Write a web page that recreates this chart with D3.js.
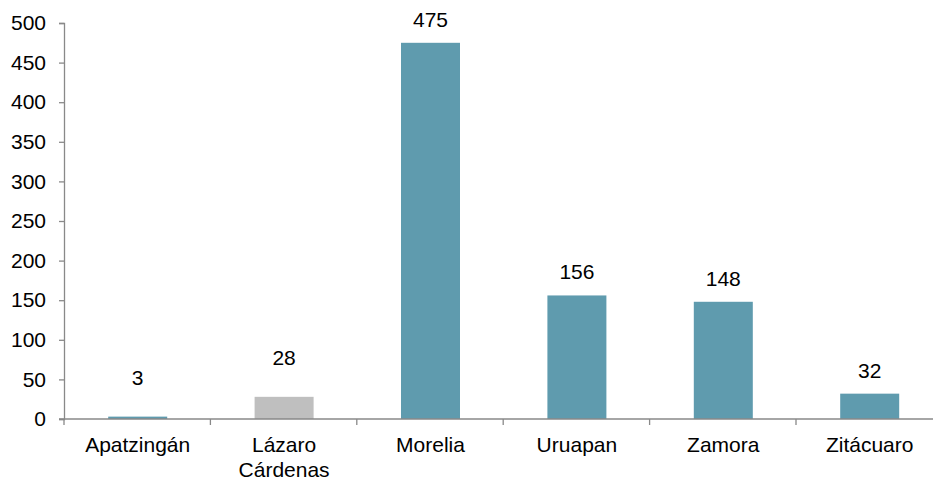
<!DOCTYPE html>
<html>
<head>
<meta charset="utf-8">
<script src="https://cdn.jsdelivr.net/npm/d3@7"></script>
<style>
  html, body { margin: 0; padding: 0; background: #fff; }
  svg { display: block; font-family: "Liberation Sans", Arial, sans-serif; }
</style>
</head>
<body>
<svg id="chart" width="933" height="480"></svg>
<script>
const categories = ["Apatzingán", "Lázaro\nCárdenas", "Morelia", "Uruapan", "Zamora", "Zitácuaro"];
const values = [3, 28, 475, 156, 148, 32];
const barColors = ["#5F9BAE", "#BFBFBF", "#5F9BAE", "#5F9BAE", "#5F9BAE", "#5F9BAE"];
const yTicks = [0, 50, 100, 150, 200, 250, 300, 350, 400, 450, 500];

const svg = d3.select("#chart");
const axisColor = "#898989";
const fontSize = 21;

const x = d3.scaleBand()
  .domain(categories)
  .range([64.5, 942.9])
  .paddingInner(0.597)
  .paddingOuter(0.2985);

const y = d3.scaleLinear().domain([0, 500]).range([419, 23]);

// Y axis
const yAxis = d3.axisLeft(y).tickValues(yTicks).tickSize(5).tickPadding(13).tickFormat(d3.format("d"));
const gy = svg.append("g").attr("transform", "translate(64,0)").call(yAxis);
gy.select(".domain").attr("stroke", axisColor).attr("stroke-width", 1.3);
gy.selectAll(".tick line").attr("stroke", axisColor).attr("stroke-width", 1.3);
gy.selectAll(".tick text").attr("fill", "#000").style("font-size", fontSize + "px")
  .style("font-family", '"Liberation Sans", Arial, sans-serif');

// Bars
svg.append("g").selectAll("rect")
  .data(values)
  .join("rect")
  .attr("x", (d, i) => x(categories[i]))
  .attr("y", d => y(d))
  .attr("width", x.bandwidth())
  .attr("height", d => y(0) - y(d))
  .attr("fill", (d, i) => barColors[i]);

// X axis line and category boundary ticks
const x0 = 64;
svg.append("line")
  .attr("x1", 59).attr("x2", 933)
  .attr("y1", y(0)).attr("y2", y(0))
  .attr("stroke", axisColor).attr("stroke-width", 1.3);
const step = x.step();
const bounds = d3.range(categories.length + 1).map(i => x0 + i * step);
svg.append("g").selectAll("line")
  .data(bounds)
  .join("line")
  .attr("x1", d => d).attr("x2", d => d)
  .attr("y1", y(0)).attr("y2", y(0) + 6)
  .attr("stroke", axisColor).attr("stroke-width", 1.3);

// Category labels
const lab = svg.append("g").selectAll("text")
  .data(categories)
  .join("text")
  .attr("x", d => x(d) + x.bandwidth() / 2)
  .attr("y", 451.5)
  .attr("text-anchor", "middle")
  .attr("fill", "#000")
  .style("font-size", fontSize + "px");
lab.each(function(d) {
  const t = d3.select(this);
  d.split("\n").forEach((line, i) => {
    t.append("tspan")
      .attr("x", x(d) + x.bandwidth() / 2)
      .attr("dy", i === 0 ? 0 : 25)
      .text(line);
  });
});

// Value labels
svg.append("g").selectAll("text")
  .data(values)
  .join("text")
  .attr("x", (d, i) => x(categories[i]) + x.bandwidth() / 2)
  .attr("y", d => y(d) - (d < 30 ? 31.5 : 16))
  .attr("text-anchor", "middle")
  .attr("fill", "#000")
  .style("font-size", fontSize + "px")
  .text(d => d);
</script>
</body>
</html>
